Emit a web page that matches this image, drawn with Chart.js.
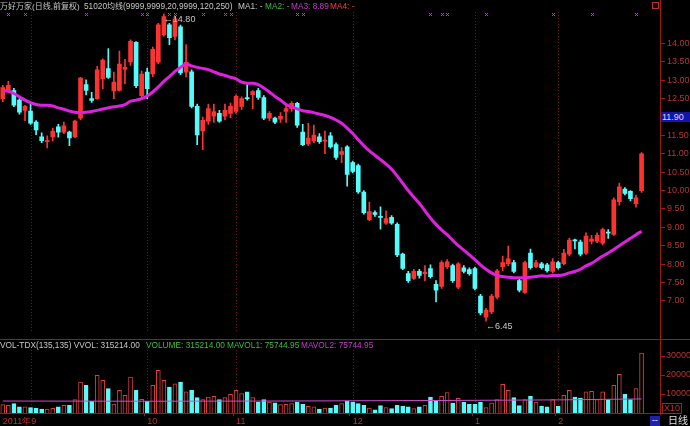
<!DOCTYPE html>
<html><head><meta charset="utf-8">
<script src="https://cdn.jsdelivr.net/npm/chart.js@4.4.1/dist/chart.umd.min.js"></script>
<style>
html,body{margin:0;padding:0;background:#000;}
#wrap{position:relative;width:690px;height:426px;background:#000;overflow:hidden;font-family:"Liberation Sans","Noto Sans CJK SC",sans-serif;}
canvas{position:absolute;left:0;}
#c1{top:0;}
#c2{top:340px;}
.t{position:absolute;font-size:8.3px;line-height:11px;white-space:nowrap;font-family:"Liberation Sans","Noto Sans CJK SC",sans-serif;}
.cj{font-size:8px;}
</style></head><body>
<div id="wrap">
<canvas id="c1" width="690" height="340"></canvas>
<canvas id="c2" width="690" height="86"></canvas>
<div class="t cj" style="left:0;top:1px;color:#c8c8c8">万好万家(日线,前复权)</div>
<div class="t" style="left:84px;top:1px;color:#c8c8c8">51020<span class="cj">均线</span>(9999,9999,20,9999,120,250)</div>
<div class="t" style="left:238px;top:1px;color:#c8c8c8">MA1: -</div>
<div class="t" style="left:265px;top:1px;color:#3cbc3c">MA2: -</div>
<div class="t" style="left:291px;top:1px;color:#c83cc8">MA3: 8.89</div>
<div class="t" style="left:330px;top:1px;color:#ff3c3c">MA4: -</div>
<div style="position:absolute;left:652px;top:2px;width:5px;height:5px;border:1px solid #c03030;"></div>
<div style="position:absolute;left:660px;top:0;width:1px;height:415px;background:#a01818;"></div>
<div style="position:absolute;left:0;top:339px;width:690px;height:1px;background:#a01818;"></div>
<div class="t" style="left:661px;top:112px;width:29px;height:10px;background:#1414a8;color:#d8d8ff;text-indent:1px;line-height:10px;font-size:9px;">11.90</div>
<div class="t" style="left:0;top:340px;color:#c8c8c8">VOL-TDX(135,135) VVOL: 315214.00</div>
<div class="t" style="left:146px;top:340px;color:#3cbc3c">VOLUME: 315214.00</div>
<div class="t" style="left:227px;top:340px;color:#3cbc3c">MAVOL1: 75744.95</div>
<div class="t" style="left:301px;top:340px;color:#c83cc8">MAVOL2: 75744.95</div>
<div class="t" style="left:662px;top:403px;height:9px;line-height:9px;border:1px solid #a02020;color:#c03030;padding:0 1px;font-size:9px;">X10</div>
<div class="t" style="left:650px;top:416px;width:10px;height:10px;line-height:9px;background:#2020b0;color:#fff;text-align:center;font-size:9px;">--</div>
<div class="t" style="left:668px;top:415px;font-size:10px;color:#e0e0e0;">日线</div>
</div>
<script>
// ---- data ----
const open=[12.50,12.72,12.72,12.46,12.18,12.16,11.86,11.46,11.33,11.46,
11.73,11.59,11.59,11.46,11.97,12.88,12.50,12.50,13.04,13.32,
12.71,12.72,13.30,13.50,14.03,12.58,13.22,13.17,13.49,14.24,
14.51,14.19,14.45,13.22,13.23,12.29,11.62,11.89,12.02,12.10,
12.02,12.10,12.15,12.29,12.53,12.61,12.72,12.53,11.97,11.97,
11.94,12.15,12.23,12.37,11.59,11.27,11.35,11.46,11.34,11.49,
11.25,10.98,11.19,10.76,10.68,9.96,9.21,9.40,9.30,9.11,
9.27,9.08,8.27,7.74,7.61,7.80,7.74,7.88,7.45,7.39,
7.93,7.96,7.37,7.90,7.85,7.88,7.13,6.56,6.70,7.10,
7.93,8.01,8.04,7.55,7.23,8.30,7.93,8.01,7.98,7.80,
8.04,8.01,8.27,8.66,8.60,8.30,8.62,8.62,8.57,8.87,
8.81,9.70,10.04,9.98,9.64,10.00];
const close=[12.80,12.86,12.32,12.13,12.29,11.83,11.65,11.36,11.36,11.62,
11.59,11.76,11.43,11.89,13.06,12.72,12.45,13.28,13.55,13.08,
12.95,13.44,13.35,14.06,12.85,13.17,12.77,13.84,14.51,14.73,
14.16,14.67,13.20,13.49,12.29,11.51,11.91,12.23,12.15,11.89,
12.18,12.29,12.56,12.50,12.50,12.69,12.53,11.97,12.10,11.86,
12.02,12.23,12.37,11.78,11.25,11.43,11.51,11.33,11.37,11.19,
10.90,11.06,10.44,10.52,9.96,9.40,9.43,9.35,9.27,9.24,
9.11,8.25,7.88,7.55,7.80,7.69,7.78,7.66,7.29,8.04,
8.06,7.55,8.01,7.80,7.74,7.34,6.67,6.75,7.13,7.82,
8.04,8.14,7.80,7.29,8.04,7.90,8.04,7.90,7.82,8.06,
7.90,8.30,8.65,8.63,8.27,8.76,8.68,8.78,8.94,8.84,
9.75,10.10,9.92,9.78,9.80,11.00];
const high=[12.86,12.97,12.78,12.50,12.32,12.37,11.90,11.57,11.49,11.70,
11.80,11.86,11.62,11.92,13.08,13.01,12.67,13.38,13.58,13.86,
13.22,13.79,13.57,14.10,14.05,13.25,13.33,13.90,14.55,14.80,
14.55,14.72,14.50,13.97,13.28,12.35,12.00,12.35,12.35,12.18,
12.35,12.38,12.60,12.55,12.88,12.72,12.78,12.58,12.15,12.00,
12.12,12.34,12.42,12.40,11.80,11.83,11.78,11.55,11.62,11.58,
11.30,11.17,11.22,10.80,10.72,10.00,9.69,9.45,9.56,9.45,
9.32,9.12,8.30,7.80,7.86,7.86,7.96,7.98,7.55,8.09,
8.12,8.00,8.04,7.96,7.90,7.92,7.18,6.80,7.18,7.86,
8.22,8.49,8.10,7.60,8.08,8.41,8.10,8.05,8.02,8.15,
8.08,8.40,8.70,8.68,8.65,8.85,8.78,8.85,8.98,8.94,
9.80,10.20,10.08,10.00,9.88,11.03];
const low=[12.42,12.68,12.28,12.08,11.90,11.80,11.52,11.30,11.16,11.35,
11.45,11.55,11.22,11.44,11.92,12.60,12.40,12.48,12.77,13.05,
12.50,12.70,12.90,13.40,12.80,12.50,12.50,13.10,13.45,14.20,
13.97,14.10,13.15,13.09,12.25,11.25,11.11,11.80,11.85,11.85,
11.92,11.98,12.10,12.20,12.46,12.23,12.48,11.93,11.90,11.82,
11.85,11.85,12.15,11.72,11.22,11.22,11.30,11.28,11.00,11.15,
10.85,10.76,10.12,10.48,9.92,9.36,9.18,9.30,8.95,9.08,
9.08,8.20,7.85,7.50,7.58,7.62,7.55,7.62,6.97,7.34,
7.88,7.50,7.33,7.76,7.70,7.30,6.62,6.45,6.65,7.05,
7.82,7.96,7.76,7.24,7.20,7.86,7.90,7.86,7.78,7.76,
7.86,7.98,8.22,8.41,8.22,8.26,8.55,8.58,8.52,8.70,
8.78,9.60,9.88,9.72,9.55,9.95];
const volume=[4400,4000,4900,3200,3200,2800,2500,2100,2000,2500,
3200,4000,4000,7000,16300,14600,6200,19800,17200,12800,
4700,11900,9300,18900,11900,7200,6200,14600,22500,17200,
13700,15400,16300,11100,11900,8100,7000,8400,8800,7000,
8100,9800,11900,10200,11100,8100,5800,7000,5800,5400,
4400,4500,4900,5800,4500,3500,3200,2000,2600,2600,
4000,4900,6200,5800,4900,4000,2600,1700,3900,2800,
2300,4000,3700,3200,2300,3200,4000,8400,6200,8800,
10700,5200,7700,5800,4500,4500,5600,2800,5200,7000,
15100,11900,8100,3900,7000,8800,5800,3700,3200,7000,
3700,9300,11900,8400,7900,11100,11400,7000,11100,7000,
14600,20400,9800,7000,12800,31500];
const ma3=[12.72,12.70,12.64,12.55,12.46,12.39,12.34,12.32,12.32,12.30,
12.25,12.21,12.16,12.13,12.12,12.13,12.15,12.18,12.22,12.25,
12.28,12.30,12.34,12.43,12.46,12.50,12.57,12.68,12.82,12.97,
13.10,13.24,13.35,13.44,13.39,13.35,13.32,13.29,13.23,13.17,
13.13,13.08,13.04,12.95,12.92,12.92,12.88,12.79,12.68,12.56,
12.46,12.34,12.28,12.22,12.17,12.15,12.12,12.08,12.04,11.99,
11.92,11.83,11.70,11.55,11.38,11.22,11.08,10.96,10.84,10.72,
10.58,10.40,10.20,10.00,9.82,9.65,9.45,9.25,9.08,8.93,
8.80,8.65,8.50,8.38,8.25,8.12,7.98,7.86,7.76,7.69,
7.66,7.64,7.63,7.63,7.63,7.64,7.66,7.68,7.67,7.69,
7.69,7.71,7.76,7.80,7.86,7.95,8.02,8.12,8.22,8.30,
8.40,8.50,8.60,8.70,8.80,8.89];
// MAVOL read at a few bars (others left empty)
const mavolIdx=[0,26,50,80,100,115];
const mavolVal=[6300,6200,6300,6600,6900,7400];
const priceTicks=[7.0,7.5,8.0,8.5,9.0,9.5,10.0,10.5,11.0,11.5,12.5,13.0,13.5,14.0];
const volTicks=[10000,20000,30000];
const monthLabels=['2011年9','10','11','12','1','2'];
const monthLabelIdx=[0,26,42,63,85,100];
const monthLineIdx=[5,26,42,63,85,100];
const signalIdx=[1,4,15,25,26,30,31,36,40,41,53,54,77,79,80,87,99,106,114];
const SLOTS=119; // 116 bars + 3 empty slots at the right edge

// ---- build ----
const slots=Array.from({length:SLOTS},(_,i)=>String(i));
const UP='#ff3232', DN='#54fcfc', AX='#a01818', TXT='#b83232';
const isUp=open.map((o,i)=>close[i]>=o);
const candleCol=isUp.map(u=>u?UP:DN);
const mavol=new Array(SLOTS).fill(null);
mavolIdx.forEach((k,j)=>{mavol[k]=mavolVal[j];});

const monthLinesPlugin={id:'mlines',beforeDatasetsDraw(ch){
  const c=ch.ctx,x=ch.scales.x,a=ch.chartArea;
  c.save();c.strokeStyle='#7a1414';c.lineWidth=1;c.setLineDash([1,2]);
  monthLineIdx.forEach(i=>{const px=Math.round(x.getPixelForValue(i))+0.5;
    c.beginPath();c.moveTo(px,ch.options.mlTop||a.top);c.lineTo(px,a.bottom);c.stroke();});
  c.restore();}};

const marksPlugin={id:'marks',afterDatasetsDraw(ch){
  const c=ch.ctx,x=ch.scales.x,y=ch.scales.y,a=ch.chartArea;
  c.save();
  c.strokeStyle='#b040d0';c.lineWidth=1;
  signalIdx.forEach(i=>{const px=Math.round(x.getPixelForValue(i))+0.5,py=a.top+2.5;
    c.beginPath();c.moveTo(px-1.5,py-1.5);c.lineTo(px+1.5,py+1.5);c.moveTo(px+1.5,py-1.5);c.lineTo(px-1.5,py+1.5);c.stroke();});
  // extremes
  let hi=0,lo=0;
  high.forEach((v,i)=>{if(v>high[hi])hi=i;});
  low.forEach((v,i)=>{if(v<low[lo])lo=i;});
  c.fillStyle='#c8c8c8';c.font='9px "Liberation Sans",sans-serif';c.textBaseline='top';c.textAlign='left';
  c.fillText('\u2190'+high[hi].toFixed(2),x.getPixelForValue(hi),y.getPixelForValue(high[hi])+1);
  c.fillText('\u2190'+low[lo].toFixed(2),x.getPixelForValue(lo),y.getPixelForValue(low[lo])+1);
  c.restore();}};

const tickFont={size:9,family:'"Liberation Sans",sans-serif'};

new Chart(document.getElementById('c1'),{
  type:'bar',
  data:{labels:slots,datasets:[
    {type:'bar',data:low.map((l,i)=>[l,high[i]]),backgroundColor:candleCol,barThickness:1,grouped:false,order:3},
    {type:'bar',data:open.map((o,i)=>[o,close[i]]),backgroundColor:candleCol,barThickness:4,minBarLength:1,grouped:false,order:2},
    {type:'line',data:ma3,borderColor:'#e020e0',borderWidth:3,pointRadius:0,tension:0.3,order:1}
  ]},
  options:{responsive:false,animation:false,events:[],mlTop:12,
    layout:{padding:{top:12,bottom:2,left:0,right:0}},
    plugins:{legend:{display:false},tooltip:{enabled:false}},
    scales:{
      x:{display:false,offset:true},
      y:{position:'right',min:6.137,max:14.856,
        afterBuildTicks:s=>{s.ticks=priceTicks.map(v=>({value:v}));},
        afterFit:s=>{s.width=29;},
        grid:{drawOnChartArea:false,color:AX,tickLength:4},
        border:{display:false},
        ticks:{color:TXT,font:tickFont,padding:2,callback:v=>Number(v).toFixed(2)}}
    }},
  plugins:[monthLinesPlugin,marksPlugin]
});

new Chart(document.getElementById('c2'),{
  type:'bar',
  data:{labels:slots,datasets:[
    {type:'bar',data:volume,backgroundColor:isUp.map(u=>u?'#000':DN),borderColor:isUp.map(u=>u?'#e03c3c':DN),borderWidth:1,barThickness:4,grouped:false,order:2},
    {type:'line',data:mavol,spanGaps:true,borderColor:'#c850c8',borderWidth:1,pointRadius:0,order:1}
  ]},
  options:{responsive:false,animation:false,events:[],
    layout:{padding:{top:10,bottom:0,left:0,right:0}},
    plugins:{legend:{display:false},tooltip:{enabled:false}},
    scales:{
      x:{offset:true,position:'bottom',
        afterFit:s=>{s.height=13;},
        border:{display:true,color:AX},
        grid:{drawOnChartArea:false,tickLength:3,color:c=>monthLabelIdx.includes(c.index)?AX:'rgba(0,0,0,0)'},
        ticks:{autoSkip:false,maxRotation:0,minRotation:0,align:'start',padding:0,color:TXT,font:tickFont,
          callback:(v,i)=>{const k=monthLabelIdx.indexOf(i);return k>=0?monthLabels[k]:'';}}},
      y:{position:'right',min:0,max:33158,
        afterBuildTicks:s=>{s.ticks=volTicks.map(v=>({value:v}));},
        afterFit:s=>{s.width=29;},
        grid:{drawOnChartArea:false,color:AX,tickLength:4},
        border:{display:false},
        ticks:{color:TXT,font:tickFont,padding:1,callback:v=>String(v)}}
    }},
  plugins:[monthLinesPlugin]
});
</script>
</body></html>
